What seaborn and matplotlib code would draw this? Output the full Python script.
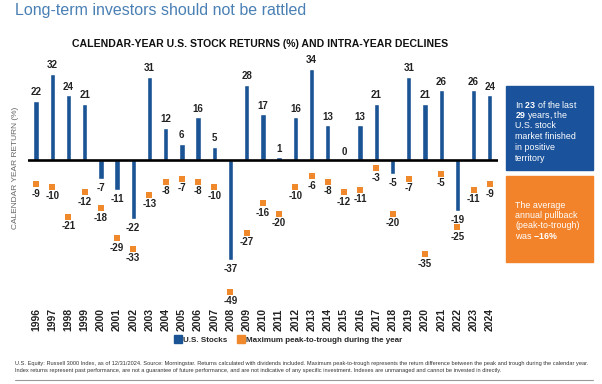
import numpy as np
import pandas as pd
import matplotlib
matplotlib.use("Agg")
import matplotlib.pyplot as plt
from matplotlib.lines import Line2D
import seaborn as sns

years = [str(y) for y in range(1996, 2025)]
returns = [22, 32, 24, 21, -7, -11, -22, 31, 12, 6, 16, 5, -37, 28, 17, 1, 16,
           34, 13, 0, 13, 21, -5, 31, 21, 26, -19, 26, 24]
declines = [-9, -10, -21, -12, -18, -29, -33, -13, -8, -7, -8, -10, -49, -27, -16,
            -20, -10, -6, -8, -12, -11, -3, -20, -7, -35, -5, -25, -11, -9]
series_names = ["U.S. Stocks", "Maximum peak-to-trough during the year"]

BLUE = "#1b5495"
ORANGE = "#f0892c"

sns.set_theme(style="white")
plt.rcParams["font.family"] = ["Liberation Sans", "DejaVu Sans"]
plt.rcParams["mathtext.fontset"] = "custom"
plt.rcParams["mathtext.rm"] = "Liberation Sans"
plt.rcParams["mathtext.bf"] = "Liberation Sans:bold"

W, H = 602, 384
fig = plt.figure(figsize=(W / 100, H / 100), dpi=100)

# axes: x from 27.9 to 497.9 px, y from 52.4 to 300 px (top-down)
ax = fig.add_axes([27.9 / W, (H - 300) / H, 470 / W, 247.6 / H])

df = pd.DataFrame({"year": years, "ret": returns, "dec": declines})
sns.barplot(data=df, x="year", y="ret", color=BLUE, width=0.33, ax=ax,
            saturation=1)
sns.stripplot(data=df, x="year", y="dec", jitter=False, marker="s",
              color=ORANGE, size=4.2, linewidth=0, ax=ax)

ax.set_xlim(-0.5, len(years) - 0.5)
ax.set_ylim(-52, 40)
ax.axhline(0, color="black", lw=1.9, zorder=5)
for s in ax.spines.values():
    s.set_visible(False)
ax.set_yticks([])
ax.set_xlabel("")
ax.set_ylabel("")
ax.tick_params(axis="x", length=0, pad=6)
for lab in ax.get_xticklabels():
    lab.set_rotation(90)
    lab.set_fontsize(7.5)
    lab.set_fontweight("bold")
    lab.set_color("#222222")

for i, v in enumerate(returns):
    if v >= 0:
        ax.annotate(f"{v}", (i, v), xytext=(0, 2.5), textcoords="offset points",
                    ha="center", va="bottom", fontsize=7, fontweight="bold",
                    color="#222222")
    else:
        ax.annotate(f"{v}", (i, v), xytext=(0, -3), textcoords="offset points",
                    ha="center", va="top", fontsize=7, fontweight="bold",
                    color="#222222")
for i, v in enumerate(declines):
    ax.annotate(f"{v}", (i, v), xytext=(0, -3.2), textcoords="offset points",
                ha="center", va="top", fontsize=7, fontweight="bold",
                color="#222222")

# titles
fig.text(15 / W, 1 - 11 / H, "Long-term investors should not be rattled",
         fontsize=11.5, color="#4a80b4", ha="left", va="center")
fig.text(260 / W, 1 - 44 / H,
         "CALENDAR-YEAR U.S. STOCK RETURNS (%) AND INTRA-YEAR DECLINES",
         fontsize=7.6, fontweight="bold", color="#111111", ha="center",
         va="center")
fig.text(16 / W, 1 - 168 / H, "CALENDAR YEAR RETURN (%)", rotation=90,
         fontsize=6, color="#666666", ha="center", va="center")

# legend
handles = [Line2D([], [], marker="s", ls="", color=BLUE, markersize=5.5),
           Line2D([], [], marker="s", ls="", color=ORANGE, markersize=5.5)]
fig.legend(handles, series_names, loc="center", ncol=2,
           bbox_to_anchor=(288 / W, 1 - 340 / H), frameon=False,
           prop={"size": 5.8, "weight": "bold"}, handletextpad=0.1,
           columnspacing=1.2, handlelength=1.0)

# side boxes
def box(y0, y1, color):
    fig.patches.append(plt.Rectangle((506 / W, 1 - y1 / H), 87 / W,
                                     (y1 - y0) / H, transform=fig.transFigure,
                                     color=color, zorder=0))

box(86, 170, "#1a539c")
box(176, 262, "#f2832a")
blue_lines = [r"In $\mathbf{23}$ of the last", r"$\mathbf{29}$ years, the",
              "U.S. stock", "market finished", "in positive", "territory"]
for k, t in enumerate(blue_lines):
    fig.text(515 / W, 1 - (103 + 10.8 * k) / H, t, color="white", fontsize=6.4,
             ha="left", va="center_baseline")
orange_lines = ["The average", "annual pullback", "(peak-to-trough)",
                r"was $\mathbf{-16\%}$"]
for k, t in enumerate(orange_lines):
    fig.text(515 / W, 1 - (205 + 10 * k) / H, t, color="white", fontsize=6.4,
             ha="left", va="center_baseline")

# footnote
foot = ("U.S. Equity: Russell 3000 Index, as of 12/31/2024. Source: Morningstar. "
        "Returns calculated with dividends included. Maximum peak-to-trough represents "
        "the return difference between the peak and trough during the calendar year.\n"
        "Index returns represent past performance, are not a guarantee of future "
        "performance, and are not indicative of any specific investment. Indexes are "
        "unmanaged and cannot be invested in directly.")
fig.text(15 / W, 1 - 367 / H, foot, fontsize=4.1, color="#333333",
         ha="left", va="center", linespacing=1.5)
fig.add_artist(Line2D([15 / W, 593 / W], [1 - 380 / H, 1 - 380 / H],
                      transform=fig.transFigure, color="#9a9a9a", lw=0.8))

fig.savefig("out.png", dpi=100)
